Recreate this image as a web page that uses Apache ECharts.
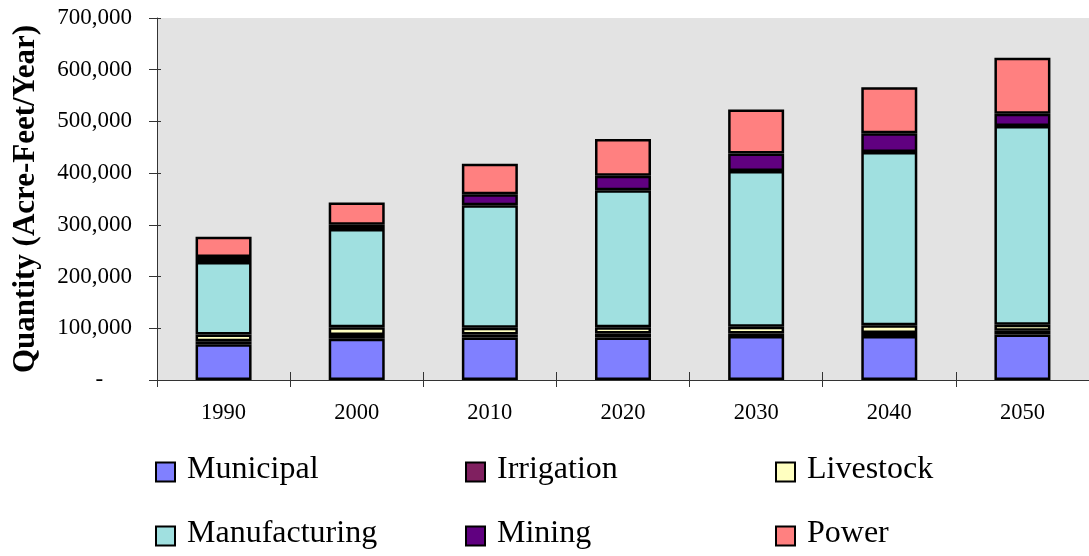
<!DOCTYPE html>
<html>
<head>
<meta charset="utf-8">
<script src="https://cdn.jsdelivr.net/npm/echarts@6/dist/echarts.min.js"></script>
<style>
  html, body { margin: 0; padding: 0; background: #ffffff; }
  #chart { width: 1089px; height: 556px; }
</style>
</head>
<body>
<div id="chart"></div>
<script>
// Projected water use by category, acre-feet per year
const years = ['1990', '2000', '2010', '2020', '2030', '2040', '2050'];
const municipal     = [69000, 80000, 82000, 82000, 85000, 85000, 88000];
const irrigation    = [6000, 7000, 6000, 8000, 5000, 6000, 7000];
const livestock     = [13000, 15000, 13000, 12000, 13000, 15000, 12000];
const manufacturing = [140000, 190000, 237000, 265000, 301000, 335000, 384000];
const mining        = [10000, 8000, 21000, 28000, 34000, 36000, 24000];
const power         = [39000, 43000, 59000, 71000, 85000, 89000, 108000];

const FONT = 'Liberation Serif';

const seriesDefs = [
  { name: 'Municipal', data: municipal, color: '#8080FF' },
  { name: 'Irrigation', data: irrigation, color: '#802060' },
  { name: 'Livestock', data: livestock, color: '#FFFFC0' },
  { name: 'Manufacturing', data: manufacturing, color: '#A0E0E0' },
  { name: 'Mining', data: mining, color: '#600080' },
  { name: 'Power', data: power, color: '#FF8080' }
];

// Legend laid out as a 3 x 2 grid: [name, left, row centre]
const legendSlots = [
  ['Municipal', 155, 471], ['Irrigation', 465, 471], ['Livestock', 775, 471],
  ['Manufacturing', 155, 535], ['Mining', 465, 535], ['Power', 775, 535]
];

// Swatch from the legend component, caption as a text element beside it
function legendSwatch(name, left, cy) {
  return {
    data: [name],
    left: left,
    top: cy - 9.5,
    padding: 0,
    itemWidth: 19,
    itemHeight: 19,
    icon: 'rect',
    itemStyle: { borderColor: '#000', borderWidth: 2 },
    formatter: () => '',
    textStyle: { fontSize: 8 },
    selectedMode: false
  };
}

function legendCaption(name, left, cy) {
  return {
    type: 'text',
    left: left + 32,
    top: cy - 17,
    style: {
      text: name,
      font: 'normal 32px serif',
      fill: '#000'
    }
  };
}

const chart = echarts.init(document.getElementById('chart'));
chart.setOption({
  animation: false,
  backgroundColor: '#ffffff',
  grid: {
    left: 157, top: 18, width: 940, height: 362,
    show: true, backgroundColor: '#E3E3E3', borderWidth: 0
  },
  legend: legendSlots.map(s => legendSwatch(s[0], s[1], s[2])),
  graphic: legendSlots.map(s => legendCaption(s[0], s[1], s[2])),
  xAxis: [{
    type: 'category',
    data: years,
    axisLine: { lineStyle: { color: '#333', width: 1 } },
    axisTick: { show: true, length: 7, lineStyle: { color: '#333' } },
    axisLabel: { fontFamily: FONT, fontSize: 22.5, color: '#000', margin: 22 },
    splitLine: { show: false }
  }, {
    type: 'category',
    data: years,
    position: 'bottom',
    axisLine: { show: false },
    axisTick: { show: true, inside: true, length: 8, lineStyle: { color: '#333' } },
    axisLabel: { show: false },
    splitLine: { show: false }
  }],
  yAxis: [{
    type: 'value',
    min: 0, max: 700000, interval: 100000,
    name: 'Quantity (Acre-Feet/Year)',
    nameLocation: 'middle',
    nameGap: 116,
    nameTextStyle: { fontFamily: FONT, fontSize: 31, fontWeight: 'bold', color: '#000' },
    axisLine: { show: true, lineStyle: { color: '#333', width: 1 } },
    axisTick: { show: true, length: 8, lineStyle: { color: '#333' } },
    axisLabel: {
      fontFamily: FONT, fontSize: 23, color: '#000', margin: 25,
      formatter: v => v === 0 ? '-     ' : v.toLocaleString('en-US')
    },
    splitLine: { show: false }
  }, {
    type: 'value',
    min: 0, max: 700000, interval: 100000,
    position: 'left',
    axisLine: { show: false },
    axisTick: { show: true, inside: true, length: 4, lineStyle: { color: '#333' } },
    axisLabel: { show: false },
    splitLine: { show: false }
  }],
  series: seriesDefs.map(s => ({
    name: s.name,
    type: 'bar',
    stack: 'total',
    data: s.data,
    barWidth: 56,
    itemStyle: { color: s.color, borderColor: '#000', borderWidth: 2.5 }
  }))
});
</script>
</body>
</html>
